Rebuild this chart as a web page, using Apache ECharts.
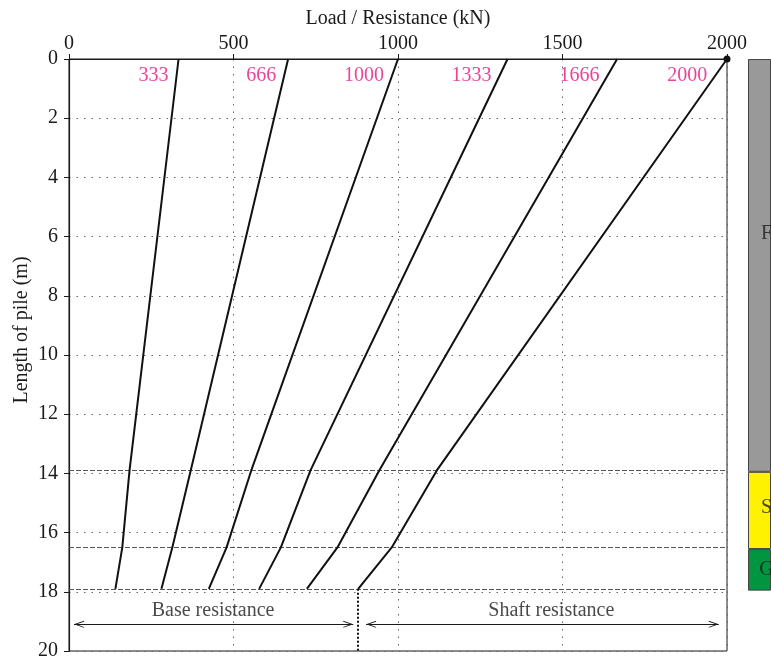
<!DOCTYPE html>
<html>
<head>
<meta charset="utf-8">
<script src="https://cdn.jsdelivr.net/npm/echarts@6/dist/echarts.min.js"></script>
<style>
  html, body { margin: 0; padding: 0; background: #fff; }
  #main { width: 771px; height: 661px; }
</style>
</head>
<body>
<div id="main"></div>
<script>
// depths (m) where the load curves bend
var depths = [0, 13.9, 16.5, 17.9];
// load along the pile for each head load (kN)
var headLoads = [333, 666, 1000, 1333, 1666, 2000];
var load333 = [333, 184, 162, 141];
var load666 = [666, 370, 314, 281];
var load1000 = [1000, 554, 479, 425];
var load1333 = [1333, 734, 644, 578];
var load1666 = [1666, 943, 816, 723];
var load2000 = [2000, 1118, 981, 879];
var curves = [load333, load666, load1000, load1333, load1666, load2000];

// soil layers
var layerNames = ['F', 'S', 'G'];
var layerThick = [13.9, 2.6, 1.4];
var layerLabelDepth = [5.9, 15.1, 17.2];

// base / shaft split
var splitLoad = 879;
var arrowDepth = 19.1;
var textDepth = 18.63;
var baseArrow = [15, 864];
var shaftArrow = [903, 1975];
var baseTextAt = 438;
var shaftTextAt = 1466;

var serif = "'Liberation Serif', 'DejaVu Serif', serif";
var ink = '#1a1a1a';
var chevron = 'path://M5,0 L5.01,0 L5,0.01 Z M5,10 L10,20 L8.6,20 L5,12.8 L1.4,20 L0,20 Z';
var soilColors = ['#999999', '#fff200', '#009640'];

var chart = echarts.init(document.getElementById('main'));

var series = [];
curves.forEach(function (c, k) {
    series.push({
        type: 'line',
        xAxisIndex: 0, yAxisIndex: 0,
        data: c.map(function (v, i) { return [v, depths[i]]; }),
        lineStyle: { color: '#111', width: 2 },
        itemStyle: { color: '#111' },
        symbol: 'circle',
        showSymbol: k === curves.length - 1,
        symbolSize: function (v, p) { return p.dataIndex === 0 ? 7 : 0; },
        clip: false,
        silent: true,
        z: 5
    });
});

// magenta head-load labels, sat just left of each curve
var labelDepth = 0.56;
series.push({
    type: 'scatter',
    xAxisIndex: 0, yAxisIndex: 0,
    symbolSize: 0,
    data: headLoads.map(function (h, k) {
        var c = curves[k];
        var x = c[0] + (c[1] - c[0]) * labelDepth / depths[1];
        return { value: [x, labelDepth], name: String(h) };
    }),
    label: {
        show: true, position: 'left', distance: 8,
        formatter: '{b}',
        color: '#e4157e', fontFamily: serif, fontSize: 20
    },
    silent: true
});

// layer boundaries (dashed)
series.push({
    type: 'line',
    xAxisIndex: 0, yAxisIndex: 0,
    data: [],
    silent: true,
    markLine: {
        silent: true,
        animation: false,
        symbol: 'none',
        label: { show: false },
        lineStyle: { type: [5, 2], width: 1.2, color: '#555' },
        data: depths.slice(1).map(function (d) { return { yAxis: d }; })
    }
});

// arrows, texts and the split line
series.push({
    type: 'scatter',
    xAxisIndex: 0, yAxisIndex: 0,
    symbolSize: 0,
    data: [
        { value: [baseTextAt, textDepth], name: 'Base resistance' },
        { value: [shaftTextAt, textDepth], name: 'Shaft resistance' }
    ],
    label: {
        show: true, position: 'inside', formatter: '{b}',
        color: ink, fontFamily: serif, fontSize: 20
    },
    silent: true,
    markLine: {
        silent: true,
        animation: false,
        symbol: [chevron, chevron],
        symbolSize: [7, 20],
        label: { show: false },
        lineStyle: { color: ink, width: 1.2, type: 'solid' },
        data: [
            [{ coord: [baseArrow[0], arrowDepth] }, { coord: [baseArrow[1], arrowDepth] }],
            [{ coord: [shaftArrow[0], arrowDepth] }, { coord: [shaftArrow[1], arrowDepth] }],
            [{ coord: [splitLoad, depths[3]], symbol: 'none', lineStyle: { type: [2, 2], width: 2, color: '#111' } },
             { coord: [splitLoad, 20], symbol: 'none' }]
        ]
    }
});

// soil column
layerThick.forEach(function (t, i) {
    series.push({
        type: 'bar',
        xAxisIndex: 1, yAxisIndex: 1,
        stack: 'soil',
        barWidth: '100%',
        data: [t],
        itemStyle: { color: soilColors[i], borderColor: '#444', borderWidth: 1 },
        silent: true
    });
});
series.push({
    type: 'scatter',
    xAxisIndex: 1, yAxisIndex: 1,
    symbolSize: 0,
    data: layerNames.map(function (n, i) { return { value: [0, layerLabelDepth[i]], name: n }; }),
    label: {
        show: true, position: 'inside', formatter: '{b}', offset: [7, 0],
        color: ink, fontFamily: serif, fontSize: 20
    },
    silent: true,
    z: 10
});

var plain = function (v) { return String(v); };

var option = {
    animation: false,
    backgroundColor: '#fff',
    grid: [
        { left: 69, top: 59, width: 658, height: 594, show: true, borderColor: ink, borderWidth: 1 },
        { left: 748, top: 59, width: 38, height: 594 }
    ],
    xAxis: [
        {
            gridIndex: 0, type: 'value', position: 'top',
            min: 0, max: 2000, interval: 500,
            name: 'Load / Resistance (kN)',
            nameLocation: 'middle', nameGap: 30,
            nameTextStyle: { fontFamily: serif, fontSize: 20, color: ink },
            axisLine: { show: true, lineStyle: { color: ink, width: 1.2 } },
            axisTick: { show: true, inside: false, length: 5, lineStyle: { color: ink } },
            axisLabel: { fontFamily: serif, fontSize: 20, color: ink, margin: 5, formatter: plain },
            splitLine: { show: true, lineStyle: { color: '#666', type: [1.5, 6], width: 1 } }
        },
        { gridIndex: 1, type: 'category', data: ['soil'], show: false }
    ],
    yAxis: [
        {
            gridIndex: 0, type: 'value', inverse: true,
            min: 0, max: 20, interval: 2,
            name: 'Length of pile (m)',
            nameLocation: 'middle', nameGap: 37, nameMoveOverlap: false,
            nameTextStyle: { fontFamily: serif, fontSize: 20, color: ink, padding: [0, 0, 0, 50] },
            axisLine: { show: true, lineStyle: { color: ink, width: 1.2 } },
            axisTick: { show: true, inside: false, length: 5, lineStyle: { color: ink } },
            axisLabel: { fontFamily: serif, fontSize: 20, color: ink, margin: 11, formatter: plain },
            splitLine: { show: true, lineStyle: { color: '#666', type: [1.5, 6], width: 1 } }
        },
        { gridIndex: 1, type: 'value', inverse: true, min: 0, max: 20, show: false }
    ],
    series: series
};

chart.setOption(option);
</script>
</body>
</html>
